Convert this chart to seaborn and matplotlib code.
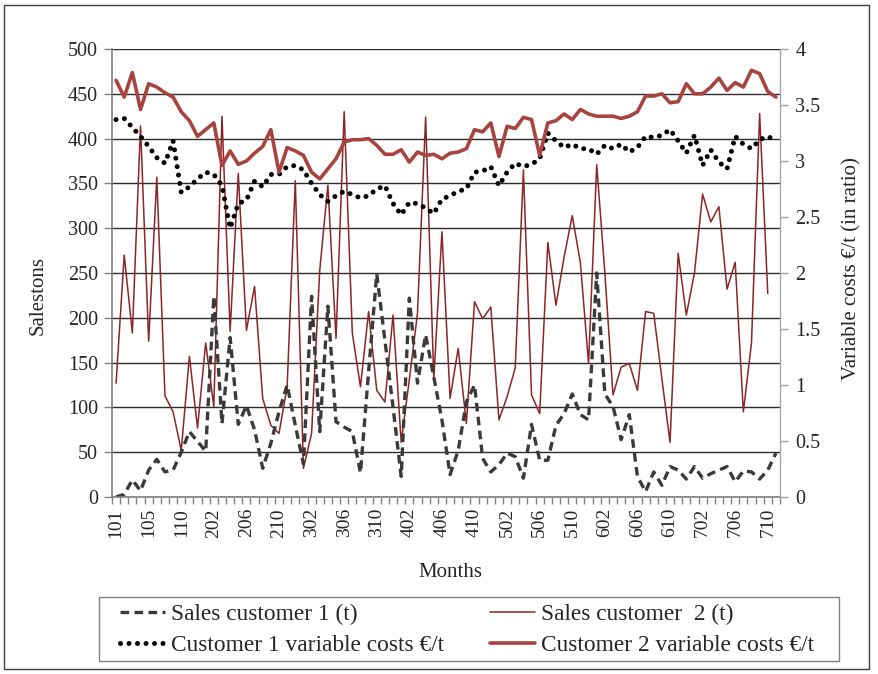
import numpy as np
import pandas as pd
import matplotlib
matplotlib.use("Agg")
import matplotlib.pyplot as plt
import seaborn as sns
from matplotlib.ticker import FuncFormatter
from matplotlib.patches import Rectangle

months = ['101', '102', '103', '104', '105', '106', '107', '108', '110', '111', '112',
          '201', '202', '203', '204', '205', '206', '207', '208', '209', '210', '211', '212',
          '301', '302', '303', '304', '305', '306', '307', '308', '309', '310', '311', '312',
          '401', '402', '403', '404', '405', '406', '407', '408', '409', '410', '411', '412',
          '501', '502', '503', '504', '505', '506', '507', '508', '509', '510', '511', '512',
          '601', '602', '603', '604', '605', '606', '607', '608', '609', '610', '611', '612',
          '701', '702', '703', '704', '705', '706', '707', '708', '709', '710', '711']

sales_c1 = [0, 3, 19, 7, 30, 42, 28, 30, 50, 73, 62, 51,
            224, 82, 178, 81, 102, 75, 32, 60, 95, 125, 80, 37,
            224, 73, 213, 84, 78, 73, 27, 140, 249, 175, 100, 23,
            222, 127, 181, 134, 86, 25, 52, 106, 125, 43, 28, 36,
            49, 45, 21, 81, 41, 41, 80, 93, 115, 92, 86, 250,
            115, 101, 64, 92, 23, 6, 28, 13, 34, 30, 20, 34,
            21, 26, 30, 34, 17, 29, 28, 20, 30, 49]

sales_c2 = [127, 270, 183, 414, 174, 357, 113, 95, 52, 157, 77, 172,
            101, 425, 185, 361, 186, 235, 110, 80, 71, 123, 353, 32,
            71, 253, 348, 177, 430, 183, 123, 207, 119, 106, 203, 61,
            131, 205, 424, 131, 296, 110, 166, 82, 218, 199, 212, 86,
            112, 144, 365, 114, 93, 284, 214, 268, 314, 261, 149, 371,
            250, 114, 145, 149, 119, 207, 205, 132, 61, 272, 203, 250,
            338, 307, 324, 232, 262, 95, 172, 428, 227, np.nan]

cost_c1 = [3.37, 3.38, 3.30, 3.22, 3.13, 3.03, 2.98, 3.18, 2.72, 2.77,
           2.84, 2.90, 2.88, 2.78, 2.40, 2.62, 2.65, 2.82, 2.77, 2.88,
           2.88, 2.95, 2.96, 2.92, 2.80, 2.70, 2.64, 2.69, 2.73, 2.70,
           2.67, 2.69, 2.75, 2.78, 2.62, 2.52, 2.63, 2.62, 2.58, 2.53,
           2.66, 2.69, 2.73, 2.75, 2.90, 2.91, 2.95, 2.78, 2.90, 2.98,
           2.95, 2.97, 3.02, 3.25, 3.18, 3.12, 3.15, 3.11, 3.11, 3.06,
           3.14, 3.11, 3.15, 3.08, 3.12, 3.22, 3.21, 3.23, 3.28, 3.18,
           3.07, 3.23, 2.96, 3.10, 2.99, 2.93, 3.22, 3.15, 3.11, 3.19,
           3.22, 3.18]

cost_c2 = [3.72, 3.57, 3.79, 3.46, 3.69, 3.66, 3.61, 3.57, 3.44, 3.36,
           3.22, 3.28, 3.34, 2.96, 3.09, 2.97, 3.00, 3.07, 3.13, 3.28,
           2.90, 3.12, 3.09, 3.05, 2.90, 2.84, 2.93, 3.02, 3.17, 3.19,
           3.19, 3.20, 3.14, 3.06, 3.06, 3.10, 2.99, 3.08, 3.05, 3.06,
           3.02, 3.07, 3.08, 3.11, 3.28, 3.26, 3.34, 3.04, 3.31, 3.29,
           3.39, 3.37, 3.05, 3.34, 3.36, 3.42, 3.37, 3.46, 3.42, 3.40,
           3.40, 3.40, 3.38, 3.40, 3.44, 3.58, 3.58, 3.60, 3.52, 3.53,
           3.69, 3.60, 3.60, 3.66, 3.74, 3.63, 3.70, 3.66, 3.81, 3.78,
           3.62, 3.57]

left_ticks = [0, 50, 100, 150, 200, 250, 300, 350, 400, 450, 500]
right_ticks = [0, 0.5, 1, 1.5, 2, 2.5, 3, 3.5, 4]

df = pd.DataFrame({"idx": np.arange(len(months)), "month": months,
                   "s1": sales_c1, "s2": sales_c2, "c1": cost_c1, "c2": cost_c2})

sns.set_theme(style="white")
plt.rcParams['font.family'] = ['Liberation Serif', 'DejaVu Serif']
plt.rcParams['font.size'] = 14

W, H = 879, 674
fig = plt.figure(figsize=(W / 100, H / 100), dpi=100)
x0, x1, y0, y1 = 112, 780, 49, 497
ax = fig.add_axes([x0 / W, 1 - y1 / H, (x1 - x0) / W, (y1 - y0) / H])
ax2 = ax.twinx()

sns.lineplot(data=df, x="idx", y="s2", ax=ax, color="#8C2626", lw=1.1,
             label="Sales customer  2 (t)", legend=False)
sns.lineplot(data=df, x="idx", y="s1", ax=ax, color="#3A3A3A", lw=2.4,
             ls=(0, (2.6, 1.6)), label="Sales customer 1 (t)", legend=False)
sns.lineplot(data=df, x="idx", y="c1", ax=ax2, color="black", lw=3.6,
             ls=(0, (0.001, 1.7)), dash_capstyle="round",
             label="Customer 1 variable costs \u20ac/t", legend=False)
sns.lineplot(data=df, x="idx", y="c2", ax=ax2, color="#A8443F", lw=2.6,
             label="Customer 2 variable costs \u20ac/t", legend=False)

n = len(months)
ax.set_xlim(-0.5, n - 0.5)
ax.set_ylim(0, 500)
ax2.set_ylim(0, 4)

ax.set_yticks(left_ticks)
ax.yaxis.grid(True, color="#2b2b2b", lw=1.0)
ax.xaxis.grid(False)
ax.set_axisbelow(True)

lab_idx = list(range(0, n, 4))
ax.set_xticks(lab_idx)
ax.set_xticklabels([months[i] for i in lab_idx], rotation=90)
ax.set_xticks(np.arange(-0.5, n, 1.0), minor=True)
ax.tick_params(axis="x", which="major", length=0, pad=8, labelsize=14)
ax.tick_params(axis="x", which="minor", length=5, color="#808080", width=1, direction="out", bottom=True)
ax.tick_params(axis="y", which="major", length=6, color="#808080", width=1, direction="out",
               left=True, pad=4, labelsize=14.5)

ax2.set_yticks(right_ticks)
ax2.yaxis.set_major_formatter(FuncFormatter(lambda v, p: f"{v:g}"))
ax2.tick_params(axis="y", which="major", length=6, color="#A0A0A0", width=1, direction="out",
                right=True, pad=5, labelsize=14.5)
ax2.grid(False)

for s in ["top", "right"]:
    ax.spines[s].set_visible(False)
for s in ["left", "bottom"]:
    ax.spines[s].set_color("#808080")
    ax.spines[s].set_linewidth(1.2)
for s in ["top", "left", "bottom"]:
    ax2.spines[s].set_visible(False)
ax2.spines["right"].set_color("#A8A8A8")
ax2.spines["right"].set_linewidth(1.0)

ax.set_xlabel("Months", fontsize=15)
ax.xaxis.set_label_coords(0.506, -0.147)
ax.set_ylabel("Salestons", fontsize=15)
ax.yaxis.set_label_coords(-0.097, 0.449)
ax2.set_ylabel("Variable costs \u20ac/t (in ratio)", fontsize=15)
ax2.yaxis.set_label_coords(1.093, 0.511)

l_s2 = ax.lines[0]
l_s1 = ax.lines[1]
l_c1 = ax2.lines[0]
l_c2 = ax2.lines[1]
leg_fs = 16.8
leg = fig.legend(handles=[l_s1, l_c1, l_s2, l_c2],
                 labels=[l_s1.get_label(), l_c1.get_label(), l_s2.get_label(), l_c2.get_label()],
                 ncol=2, loc="upper left", bbox_to_anchor=(120 / W, 1 - 604 / H),
                 frameon=False, fontsize=leg_fs, handlelength=1.95, handletextpad=0.25,
                 columnspacing=1.95, labelspacing=0.4, borderpad=0, borderaxespad=0)

fig.add_artist(Rectangle((99 / W, 1 - 661 / H), (839 - 99) / W, (661 - 597) / H,
                         transform=fig.transFigure, fill=False, edgecolor="#808080", lw=1.0))
fig.add_artist(Rectangle((4 / W, 5 / H), (869 - 4) / W, (669 - 5) / H,
                         transform=fig.transFigure, fill=False, edgecolor="#404040", lw=1.0))

fig.savefig("out.png", dpi=100)
